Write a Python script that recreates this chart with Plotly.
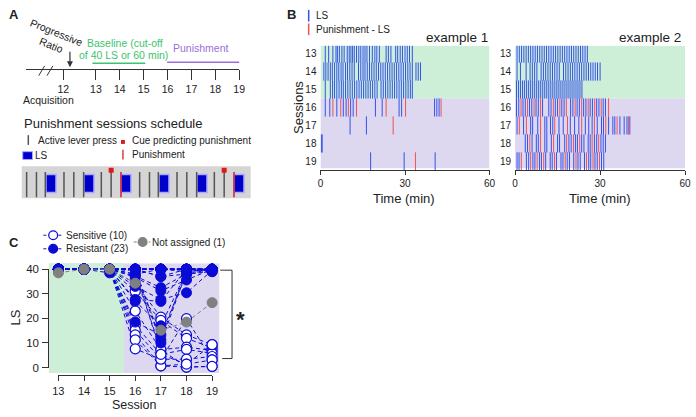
import plotly.graph_objects as go

W, H = 696, 417
def fx(px): return px / W
def fy(py): return 1 - py / H

FONT = "Liberation Sans, Arial, Helvetica, sans-serif"
TXT = "#222222"
AX = "#333333"

# ---------------- DATA ----------------
# Panel A: schematic timeline (schematic positions, labels)
timeline_labels = ["1", "12", "13", "14", "15", "16", "17", "18", "19"]
timeline_pos = [10.08, 11.63, 13, 14, 15, 16, 17, 18, 19]
baseline_span = [12.85, 15.07]
punish_span = [15.98, 19.03]
pr_session = 11.91

# Panel A: punishment schedule (arbitrary time units)
sched_press = [21, 31, 40, 59, 69, 79, 97, 107, 136, 146, 155, 174, 184, 194, 212, 222]
sched_cue = [107, 222]
sched_punish = [117, 232]
sched_ls_start = [41.5, 80, 118, 156.5, 195, 233]
sched_ls_dur = 10

# Panel B: raster of events (minutes) for sessions 13..19
b_sessions = [13, 14, 15, 16, 17, 18, 19]
ex1_ls = [
    [1.7, 2.9, 4.4, 5.5, 6.0, 6.7, 7.6, 8.4, 9.5, 10.2, 10.8, 11.4, 12.0, 12.8, 13.6, 14.3, 15.1, 15.8,
     16.5, 17.4, 18.4, 19.3, 20.0, 20.9, 23.3, 24.1, 25.0, 26.7, 27.4, 28.3, 29.1, 30.0, 30.8, 31.6, 32.6],
    [1.2, 1.9, 2.7, 3.5, 4.2, 5.0, 5.8, 6.5, 7.3, 8.0, 8.9, 9.6, 10.4, 11.2, 12.0, 13.5, 14.3, 15.1, 15.8,
     16.6, 17.4, 18.2, 19.0, 19.8, 20.6, 21.4, 22.2, 23.0, 23.8, 24.6, 25.4, 26.2, 27.0, 27.8, 28.6, 29.4,
     30.2, 31.0, 31.8, 32.6, 33.9, 34.7, 35.5],
    [1.7, 3.5, 4.3, 5.0, 5.8, 6.6, 7.4, 8.1, 8.9, 9.7, 10.5, 11.3, 12.1, 12.9, 13.7, 14.5, 15.3, 16.1,
     16.9, 17.7, 18.5, 19.3, 20.1, 21.5, 22.3, 23.1, 23.9, 24.7, 25.5, 26.3, 27.1, 27.9, 28.7, 29.5, 30.3,
     31.1, 31.9, 32.6],
    [1.7, 3.3, 5.8, 8.1, 9.1, 10.7, 11.6, 19.5, 21.9, 27.9, 28.8, 40.5, 41.3, 42.1],
    [10.5, 16.3],
    [0.3, 0.6],
    [17.8, 29.7, 40.7],
]
ex1_pun = [[], [], [], [4.4, 7.2, 9.9, 12.8, 23.3, 30.2, 42.8], [25.8], [], [33.7]]

ex2_ls = [
    [0.7, 1.5, 2.3, 3.1, 3.9, 4.7, 5.5, 6.3, 7.1, 7.9, 8.7, 9.5, 10.3, 11.1, 11.9, 12.7, 13.5, 14.3, 15.1,
     15.9, 16.7, 17.5, 18.3, 19.1, 19.9, 20.7, 21.5, 22.3, 23.1, 23.9, 24.7, 25.5],
    [0.7, 1.9, 3.9, 5.3, 6.1, 6.9, 7.7, 9.2, 10.0, 10.8, 11.6, 12.4, 13.2, 14.0, 14.8, 15.6, 17.1, 17.9,
     18.7, 19.5, 20.3, 21.1, 21.9, 22.7, 23.5, 24.3, 25.1, 25.9, 26.7, 27.5, 28.3, 29.1, 30.0],
    [0.5, 1.2, 1.9, 2.6, 3.3, 4.0, 4.7, 5.4, 6.1, 6.8, 7.5, 8.2, 8.9, 9.6, 10.3, 11.0, 11.7, 12.4, 13.1,
     13.8, 14.5, 15.2, 15.9, 16.6, 17.3, 18.0, 18.7, 19.4, 20.1, 20.8, 21.5, 22.2, 22.9, 23.6],
    [0.5, 1.3, 2.8, 3.6, 5.1, 5.9, 7.4, 8.2, 9.7, 11.9, 12.7, 14.2, 15.0, 16.5, 17.3, 19.6, 20.4, 21.9,
     22.7, 24.2, 25.0, 26.5, 27.3, 28.8, 29.6, 31.1, 31.9],
    [0.7, 3.0, 5.5, 6.2, 8.0, 10.5, 11.2, 12.5, 13.3, 15.5, 17.0, 19.5, 21.0, 22.5, 24.8, 26.0, 27.2,
     29.0, 30.5, 31.2, 33.0, 34.5, 35.2, 37.0, 38.5, 39.5, 40.5],
    [3.6, 4.4, 6.0, 7.5, 8.2, 10.5, 11.2, 12.8, 15.0, 15.7, 17.5, 19.0, 19.8, 21.3, 22.0, 23.5, 24.3,
     25.8, 26.5, 28.0, 28.8, 30.3, 31.1, 31.9],
    [0.7, 1.4, 4.0, 4.8, 6.3, 7.0, 8.6, 9.3, 10.8, 12.4, 13.1, 14.6, 16.2, 16.9, 18.4, 19.2, 20.7, 22.2,
     23.0, 24.5, 26.0, 26.7, 28.2, 29.0, 30.5, 31.3],
]
ex2_pun = [
    [], [], [],
    [2.1, 4.4, 6.7, 9.0, 13.5, 15.8, 18.1, 21.2, 23.5, 25.8, 28.1, 30.4, 33.0],
    [1.5, 4.0, 9.0, 14.0, 18.5, 23.5, 28.0, 32.0, 36.0, 40.0],
    [5.2, 9.0, 13.6, 18.2, 20.6, 22.8, 27.2, 29.5],
    [2.2, 5.5, 7.8, 10.1, 13.9, 17.7, 21.5, 25.2, 27.5, 29.8],
]

# Panel C: LS per session per mouse
c_sessions = [13, 14, 15, 16, 17, 18, 19]
c_sensitive = [
    [40, 40, 40, 34.3, 20.5, 13.3, 9.3],
    [40, 40, 40, 31, 19.2, 11.9, 8],
    [40, 40, 40, 23, 7.3, 8.3, 7],
    [40, 40, 40, 17.2, 5.4, 7.4, 5.8],
    [40, 40, 40, 15.2, 3.4, 3.4, 4.5],
    [40, 40, 40, 13.3, 0.7, 1.4, 3.1],
    [40, 40, 40, 11.3, 0.7, 0.2, 0.5],
    [40, 40, 40, 7.6, 3.4, 19.9, 3.1],
    [40, 40, 40, 38, 7.3, 0.2, 0.5],
    [40, 40, 40, 40, 5.4, 1.4, 9.3],
]
c_resistant = [
    [40, 40, 40, 40, 40, 40, 40],
    [40, 40, 40, 40, 40, 40, 40],
    [40, 40, 40, 40, 40, 39, 40],
    [40, 40, 40, 40, 37, 40, 40],
    [40, 40, 40, 37.2, 32.5, 38, 39],
    [40, 40, 40, 36.7, 31.2, 35.6, 40],
    [40, 40, 40, 33, 27.7, 30.4, 39.5],
    [40, 40, 40, 27.7, 26.9, 40, 40],
    [40, 40, 40, 27, 17, 39, 40],
    [40, 40, 40, 18.5, 13.3, 38, 39.5],
    [40, 40, 40, 40, 11.3, 40, 40],
    [40, 40, 40, 40, 10, 39, 40],
    [40, 40, 38.5, 40, 40, 40, 40],
    [40, 40, 40, 40, 37, 38, 40],
    [40, 40, 40, 40, 40, 40, 39],
    [40, 40, 40, 38, 40, 40, 40],
    [40, 40, 40, 40, 40, 40, 40],
    [40, 40, 40, 40, 40, 40, 40],
    [40, 40, 40, 40, 40, 40, 40],
    [40, 40, 40, 40, 40, 40, 40],
    [40, 40, 40, 40, 40, 40, 40],
    [40, 40, 40, 40, 40, 40, 40],
    [40, 40, 40, 40, 40, 40, 40],
]
c_unassigned = [38.5, 40, 40, 34.3, 15.2, 18.5, 26.4]
c_baseline_end = 15.558

# ---------------- COLOURS ----------------
GREEN_BG = "#cdeed7"
PURPLE_BG = "#ddd7f0"
LS_BLUE = "#3452ea"
PUN_RED = "#ec5353"
C_BLUE = "#0b0bd6"
GRAY = "#808080"

fig = go.Figure()

# ---------------- PANEL B traces ----------------
def raster(rows, sessions, color, xa, ya):
    xs, ys = [], []
    for s, row in zip(sessions, rows):
        xs += row
        ys += [s] * len(row)
    return go.Scatter(x=xs, y=ys, mode="markers", xaxis=xa, yaxis=ya,
                      marker=dict(symbol="line-ns", size=13, line=dict(width=1.0, color=color)),
                      showlegend=False, hoverinfo="skip")

fig.add_trace(raster(ex1_ls, b_sessions, LS_BLUE, "x", "y"))
fig.add_trace(raster(ex1_pun, b_sessions, PUN_RED, "x", "y"))
fig.add_trace(raster(ex2_ls, b_sessions, LS_BLUE, "x2", "y2"))
fig.add_trace(raster(ex2_pun, b_sessions, PUN_RED, "x2", "y2"))

# ---------------- PANEL C traces ----------------
def lines_of(group):
    xs, ys = [], []
    for m in group:
        xs += c_sessions + [None]
        ys += m + [None]
    return xs, ys

for grp in (c_sensitive, c_resistant):
    lx, ly = lines_of(grp)
    fig.add_trace(go.Scatter(x=lx, y=ly, mode="lines", xaxis="x3", yaxis="y3",
                             line=dict(color=C_BLUE, width=1, dash="4px,3px"),
                             showlegend=False, hoverinfo="skip"))
fig.add_trace(go.Scatter(x=c_sessions, y=c_unassigned, mode="lines", xaxis="x3", yaxis="y3",
                         line=dict(color=GRAY, width=1, dash="4px,3px"),
                         showlegend=False, hoverinfo="skip"))

def pts(group):
    xs, ys = [], []
    for m in group:
        xs += c_sessions
        ys += m
    return xs, ys

sx, sy = pts(c_sensitive)
fig.add_trace(go.Scatter(x=sx, y=sy, mode="markers", xaxis="x3", yaxis="y3",
                         marker=dict(size=10, color="white", line=dict(color=C_BLUE, width=1.2)),
                         showlegend=False, hoverinfo="skip"))
rx, ry = pts(c_resistant)
fig.add_trace(go.Scatter(x=rx, y=ry, mode="markers", xaxis="x3", yaxis="y3",
                         marker=dict(size=10, color=C_BLUE, line=dict(color=C_BLUE, width=1)),
                         showlegend=False, hoverinfo="skip"))
fig.add_trace(go.Scatter(x=c_sessions, y=c_unassigned, mode="markers", xaxis="x3", yaxis="y3",
                         marker=dict(size=10, color=GRAY, line=dict(color=GRAY, width=1)),
                         showlegend=False, hoverinfo="skip"))
# frame axes for panel C
fig.add_trace(go.Scatter(x=[13], y=[0], mode="markers", xaxis="x4", yaxis="y4",
                         marker=dict(opacity=0), showlegend=False, hoverinfo="skip"))

# ---------------- PANEL A traces ----------------
fig.add_trace(go.Scatter(x=[timeline_pos[0]], y=[0.5], mode="markers", xaxis="x5", yaxis="y5",
                         marker=dict(opacity=0), showlegend=False, hoverinfo="skip"))

fig.add_trace(go.Bar(x=[s + sched_ls_dur / 2 for s in sched_ls_start], y=[19] * len(sched_ls_start),
                     base=5, width=sched_ls_dur, xaxis="x6", yaxis="y6",
                     marker=dict(color="#0000cc", line=dict(color="#a9a9ff", width=1.5)),
                     showlegend=False, hoverinfo="skip"))
fig.add_trace(go.Scatter(x=sched_press, y=[14] * len(sched_press), mode="markers", xaxis="x6", yaxis="y6",
                         marker=dict(symbol="line-ns", size=18, line=dict(width=1.5, color="#555555")),
                         showlegend=False, hoverinfo="skip"))
fig.add_trace(go.Scatter(x=sched_punish, y=[14] * len(sched_punish), mode="markers", xaxis="x6", yaxis="y6",
                         marker=dict(symbol="line-ns", size=18, line=dict(width=1.5, color="#d42020")),
                         showlegend=False, hoverinfo="skip"))
fig.add_trace(go.Scatter(x=sched_cue, y=[29] * len(sched_cue), mode="markers", xaxis="x6", yaxis="y6",
                         marker=dict(symbol="square", size=5, color="#e01818"),
                         showlegend=False, hoverinfo="skip"))

# ---------------- SHAPES ----------------
shapes = []
for xa, ya in (("x", "y"), ("x2", "y2")):
    shapes.append(dict(type="rect", xref=xa, yref=ya, x0=0, x1=60, y0=12.568, y1=15.5,
                       fillcolor=GREEN_BG, line_width=0, layer="below"))
    shapes.append(dict(type="rect", xref=xa, yref=ya, x0=0, x1=60, y0=15.5, y1=19.38,
                       fillcolor=PURPLE_BG, line_width=0, layer="below"))
shapes.append(dict(type="rect", xref="x3 domain", yref="y3", x0=0, x1=1, y0=-2.25, y1=42.36,
                   fillcolor=PURPLE_BG, line_width=0, layer="below"))
shapes.append(dict(type="rect", xref="x3", yref="y3", x0=12.643, x1=c_baseline_end, y0=-2.25, y1=42.36,
                   fillcolor=GREEN_BG, line_width=0, layer="below"))
shapes.append(dict(type="rect", xref="x6 domain", yref="y6 domain", x0=0, x1=1, y0=0, y1=1,
                   fillcolor="#d5d5d5", line_width=0, layer="below"))

def pline(x0, y0, x1, y1, color=AX, width=1, dash=None):
    d = dict(type="line", xref="paper", yref="paper", x0=fx(x0), y0=fy(y0), x1=fx(x1), y1=fy(y1),
             line=dict(color=color, width=width))
    if dash:
        d["line"]["dash"] = dash
    return d

# timeline bars
shapes.append(dict(type="line", xref="x5", yref="paper", x0=baseline_span[0], x1=baseline_span[1],
                   y0=fy(59), y1=fy(59), line=dict(color="#3cc46e", width=1.5)))
shapes.append(dict(type="line", xref="x5", yref="paper", x0=punish_span[0], x1=punish_span[1],
                   y0=fy(58), y1=fy(58), line=dict(color="#9a6fdc", width=1.5)))
# axis break
shapes.append(pline(33.3, 71.7, 39.3, 61.7))
shapes.append(pline(41.7, 71.7, 47.7, 61.7))

# schedule legend symbols
shapes.append(pline(22.7, 133, 22.7, 143, "#555555", 1.5))
shapes.append(dict(type="rect", xref="paper", yref="paper", x0=fx(117), x1=fx(121), y0=fy(142), y1=fy(138),
                   fillcolor="#e01818", line_width=0))
shapes.append(dict(type="rect", xref="paper", yref="paper", x0=fx(17), x1=fx(27), y0=fy(158), y1=fy(150),
                   fillcolor="#0000cc", line=dict(color="#a9a9ff", width=1)))
shapes.append(pline(119, 148, 119, 158, "#d42020", 1.3))

# panel B legend symbols
shapes.append(pline(308, 4, 308, 16, LS_BLUE, 1.5))
shapes.append(pline(308, 18, 308, 30, PUN_RED, 1.5))

# panel C legend symbols
shapes.append(pline(38, 236, 57, 236, C_BLUE, 1, "3px,2px"))
shapes.append(pline(38, 250, 57, 250, C_BLUE, 1, "3px,2px"))
shapes.append(pline(130, 243, 147, 243, GRAY, 1, "3px,2px"))
def pcircle(cx, cy, r, fill, edge):
    return dict(type="circle", xref="paper", yref="paper", x0=fx(cx - r), x1=fx(cx + r),
                y0=fy(cy + r), y1=fy(cy - r), fillcolor=fill, line=dict(color=edge, width=1.2))
shapes.append(pcircle(48, 236, 4.5, "white", C_BLUE))
shapes.append(pcircle(48, 250, 4.5, C_BLUE, C_BLUE))
shapes.append(pcircle(139, 243, 4.5, GRAY, GRAY))

# bracket
shapes.append(pline(218, 272, 230, 272, AX, 1))
shapes.append(pline(230, 272, 230, 363, AX, 1))
shapes.append(pline(220, 363, 230, 363, AX, 1))

# ---------------- ANNOTATIONS ----------------
ann = []
def txt(px, py, text, size=10, color=TXT, xanchor="center", yanchor="middle", **kw):
    d = dict(x=fx(px), y=fy(py), xref="paper", yref="paper", text=text, showarrow=False,
             xanchor=xanchor, yanchor=yanchor, font=dict(size=size, color=color, family=FONT))
    d.update(kw)
    ann.append(d)

txt(8, 9, "<b>A</b>", 13)
txt(290, 9, "<b>B</b>", 13)
txt(8, 244, "<b>C</b>", 13)

# panel A
txt(49, 34, "Progressive<br>Ratio", 10.5, textangle=22)
txt(121.5, 38.5, "Baseline (cut-off", 10.5, "#3cc46e")
txt(119.5, 50.5, "of 40 LS or 60 min)", 10.5, "#3cc46e")
txt(198, 43, "Punishment", 10.5, "#9a6fdc")
txt(15, 97, "Acquisition", 10.5, xanchor="left")
ann.append(dict(x=pr_session, y=fy(63), xref="x5", yref="paper", text="", showarrow=True,
                ax=0, ay=-17, arrowhead=2, arrowsize=1, arrowwidth=1.2, arrowcolor=AX))
txt(16, 121, "Punishment sessions schedule", 13, xanchor="left")
txt(31, 138, "Active lever press", 10, xanchor="left")
txt(126, 138, "Cue predicting punishment", 10, xanchor="left")
txt(27, 154, "LS", 10, xanchor="left")
txt(126, 153, "Punishment", 10, xanchor="left")

# panel B
txt(313, 10, "LS", 10, xanchor="left")
txt(313, 24, "Punishment - LS", 10, xanchor="left")
txt(492, 32, "example 1", 13.5, xanchor="right")
txt(689, 32, "example 2", 13.5, xanchor="right")
txt(297, 104, "Sessions", 13, textangle=-90)
txt(405, 198, "Time (min)", 13)
txt(604, 198, "Time (min)", 13)

# panel C
txt(59, 236, "Sensitive (10)", 10, xanchor="left")
txt(59, 250, "Resistant (23)", 10, xanchor="left")
txt(147, 243, "Not assigned (1)", 10, xanchor="left")
txt(10, 321, "LS", 13, textangle=-90)
txt(131, 410.5, "Session", 12.5)
txt(239, 323, "<b>*</b>", 22)

# ---------------- LAYOUT ----------------
def b_xaxis(x0, x1):
    return dict(domain=[fx(x0), fx(x1)], range=[0, 60], showline=True, linecolor=AX, linewidth=1,
                ticks="outside", ticklen=4, tickcolor=AX, tickvals=[0, 30, 60],
                tickfont=dict(size=10, color=TXT), showgrid=False, zeroline=False, fixedrange=True)

def b_yaxis(anchor):
    return dict(domain=[fy(169), fy(41)], range=[19.486, 12.568], anchor=anchor, tickvals=b_sessions,
                showline=False, ticks="", showgrid=False, zeroline=False, ticklabelstandoff=3,
                tickfont=dict(size=10, color=TXT))

fig.update_layout(
    width=W, height=H, margin=dict(l=0, r=0, t=0, b=0),
    paper_bgcolor="white", plot_bgcolor="rgba(0,0,0,0)",
    font=dict(family=FONT, color=TXT),
    showlegend=False, bargap=0,
    xaxis=dict(b_xaxis(320, 492), anchor="y"),
    yaxis=b_yaxis("x"),
    xaxis2=dict(b_xaxis(518, 691), anchor="y2"),
    yaxis2=b_yaxis("x2"),
    xaxis3=dict(domain=[fx(44), fx(217)], range=[12.643, 19.279], anchor="y3", visible=False),
    yaxis3=dict(domain=[fy(378), fy(265)], range=[-2.25, 42.36], anchor="x3", visible=False),
    xaxis4=dict(domain=[fx(53.3), fx(209.7)], range=[13, 19], anchor="free", position=fy(380),
                showline=True, linecolor=AX, linewidth=1, ticks="outside", ticklen=5, tickcolor=AX,
                tickvals=c_sessions, tickfont=dict(size=11, color=TXT), showgrid=False, zeroline=False,
                ticklabelstandoff=1),
    yaxis4=dict(domain=[fy(372.3), fy(271)], range=[0, 40], anchor="free", position=fx(43),
                showline=True, linecolor=AX, linewidth=1, ticks="outside", ticklen=6, tickcolor=AX,
                tickvals=[0, 10, 20, 30, 40], tickfont=dict(size=11.5, color=TXT),
                showgrid=False, zeroline=False, ticklabelstandoff=1),
    xaxis5=dict(domain=[fx(20.7), fx(237.3)], range=[10.084, 19], anchor="y5",
                tickvals=timeline_pos, ticktext=timeline_labels, showline=True, linecolor=AX, linewidth=1,
                ticks="outside", ticklen=10, tickcolor=AX, tickfont=dict(size=10.5, color=TXT),
                showgrid=False, zeroline=False),
    yaxis5=dict(domain=[fy(65), fy(45)], range=[0, 1], anchor="x5", visible=False),
    xaxis6=dict(domain=[fx(16), fx(249)], range=[16, 249], anchor="y6", visible=False),
    yaxis6=dict(domain=[fy(198), fy(165)], range=[0, 33], anchor="x6", visible=False),
    shapes=shapes,
    annotations=ann,
)

fig.write_html("out.html", config={"displayModeBar": False},
               post_script="document.body.style.margin='0';document.body.style.overflow='hidden';")
